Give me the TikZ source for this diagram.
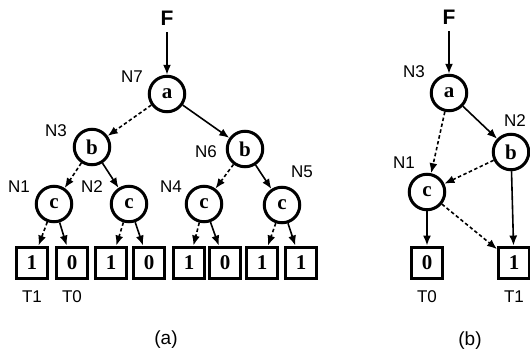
\documentclass[tikz,border=0pt]{standalone}
\usepackage{fontspec}
\setmainfont{Liberation Serif}
\setsansfont{Liberation Sans}
\usetikzlibrary{arrows.meta}
\tikzset{
  circ/.style={circle, draw, line width=3pt, minimum size=35.5pt, inner sep=0pt,
    font=\fontsize{21}{21}\selectfont\bfseries},
  leaf/.style={rectangle, draw, line width=3.4pt, minimum width=30.5pt, minimum height=31.5pt, inner sep=0pt,
    font=\fontsize{21}{21}\selectfont\bfseries},
  lab/.style={inner sep=0pt, font=\sffamily\fontsize{17}{17}\selectfont},
  ftxt/.style={inner sep=0pt, font=\sffamily\bfseries\fontsize{21}{21}\selectfont},
  edge/.style={line width=1.6pt, -{Latex[length=10pt,width=8pt]}},
  hi/.style={edge},
  lo/.style={edge, dash pattern=on 3.5pt off 2.5pt},
}
\begin{document}
\begin{tikzpicture}[x=1pt,y=-1pt]
\useasboundingbox (0,0) rectangle (530,351);
% ---------- (a) ----------
\node[ftxt] (Fa) at (167,18) {F};
\node[circ] (a7) at (167,94) {a};
\node[circ] (b3) at (92,147) {b};
\node[circ] (b6) at (245,149) {b};
\node[circ] (c1) at (54,204) {c};
\node[circ] (c2) at (129,204) {c};
\node[circ] (c4) at (204,204) {c};
\node[circ] (c5) at (282,205) {c};
\node[leaf] (l1) at (32,263) {1};
\node[leaf] (l2) at (72,263) {0};
\node[leaf] (l3) at (111,263) {1};
\node[leaf] (l4) at (149,263) {0};
\node[leaf] (l5) at (189,263) {1};
\node[leaf] (l6) at (225,263) {0};
\node[leaf] (l7) at (262,263) {1};
\node[leaf] (l8) at (301,263) {1};
\node[lab] (n7) at (132,77) {N7};
\node[lab] (n3) at (56,131) {N3};
\node[lab] (n6) at (206,152) {N6};
\node[lab] (n1) at (19,187) {N1};
\node[lab] (n2) at (92,187) {N2};
\node[lab] (n4) at (171,187) {N4};
\node[lab] (n5) at (302,172) {N5};
\node[lab] (t1) at (32,297) {T1};
\node[lab] (t0) at (72,297) {T0};
\node[lab, font=\sffamily\fontsize{19}{19}\selectfont] (capa) at (166,340) {(a)};
\draw[hi, shorten <=7pt] (Fa) -- (a7);
\draw[lo] (a7) -- (b3);
\draw[hi] (a7) -- (b6);
\draw[lo] (b3) -- (c1);
\draw[hi] (b3) -- (c2);
\draw[lo] (b6) -- (c4);
\draw[hi] (b6) -- (c5);
\draw[lo] (c1) -- (l1);
\draw[hi] (c1) -- (l2);
\draw[lo] (c2) -- (l3);
\draw[hi] (c2) -- (l4);
\draw[lo] (c4) -- (l5);
\draw[hi] (c4) -- (l6);
\draw[lo] (c5) -- (l7);
\draw[hi] (c5) -- (l8);
% ---------- (b) ----------
\node[ftxt] (Fb) at (449,17) {F};
\node[circ] (ra) at (449,93) {a};
\node[circ] (rb) at (511,152) {b};
\node[circ] (rc) at (427,192) {c};
\node[leaf] (r0) at (427,263) {0};
\node[leaf] (r1) at (514,263) {1};
\node[lab] (m3) at (414,72) {N3};
\node[lab] (m2) at (515,121) {N2};
\node[lab] (m1) at (404,163) {N1};
\node[lab] (s0) at (427,297) {T0};
\node[lab] (s1) at (514,297) {T1};
\node[lab, font=\sffamily\fontsize{19}{19}\selectfont] (capb) at (470,341) {(b)};
\draw[hi, shorten <=7pt] (Fb) -- (ra);
\draw[lo] (ra) -- (rc);
\draw[hi] (ra) -- (rb);
\draw[lo] (rb) -- (rc);
\draw[hi] (rb) -- (r1);
\draw[hi] (rc) -- (r0);
\draw[lo] (rc) -- (r1);
\end{tikzpicture}
\end{document}
